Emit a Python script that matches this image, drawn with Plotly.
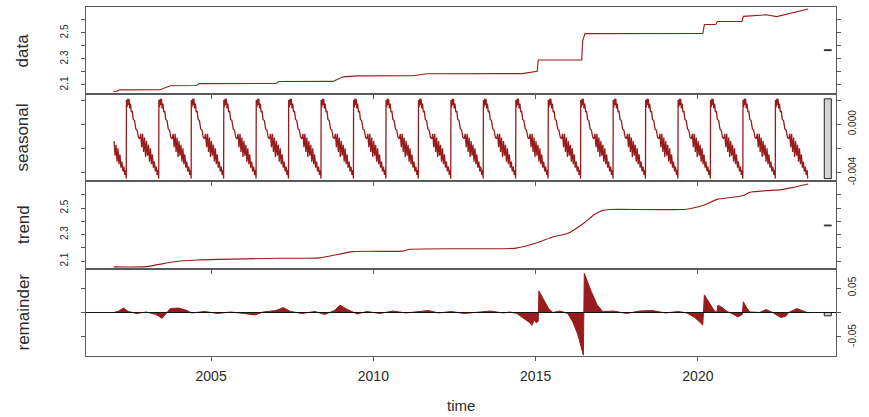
import plotly.graph_objects as go

# ---------------- data ----------------
data_time = [2002.00, 2002.10, 2002.18, 2003.43, 2003.74, 2004.55, 2004.62, 2007.00, 2007.08,
             2008.75, 2009.07, 2009.49, 2011.22, 2011.65, 2014.58, 2014.92, 2015.05, 2015.08,
             2016.42, 2016.45, 2016.52, 2020.15, 2020.20, 2020.55, 2020.60, 2021.36, 2021.40,
             2022.10, 2022.43, 2023.40]
data_value = [2.050, 2.051, 2.062, 2.063, 2.093, 2.095, 2.110, 2.111, 2.126,
              2.127, 2.162, 2.170, 2.171, 2.186, 2.187, 2.203, 2.205, 2.292,
              2.293, 2.440, 2.495, 2.496, 2.565, 2.566, 2.588, 2.589, 2.628,
              2.640, 2.626, 2.685]

trend_time = [2002.00, 2003.00, 2003.85, 2004.57, 2007.10, 2008.35, 2009.37, 2010.90, 2011.13,
              2013.60, 2014.40, 2015.07, 2015.50, 2016.00, 2016.50, 2016.80, 2017.07, 2017.30,
              2019.66, 2020.15, 2020.60, 2021.00, 2021.40, 2021.60, 2022.10, 2022.50, 2022.90,
              2023.40]
trend_value = [2.056, 2.058, 2.095, 2.108, 2.121, 2.124, 2.171, 2.175, 2.189,
               2.193, 2.198, 2.240, 2.280, 2.310, 2.390, 2.450, 2.483, 2.490,
               2.492, 2.520, 2.566, 2.580, 2.596, 2.620, 2.632, 2.638, 2.655,
               2.682]

# one seasonal cycle (phase in years after the yearly jump, value)
seasonal_phase = [0.000, 0.020, 0.040, 0.060, 0.080, 0.100, 0.125, 0.150, 0.180, 0.210,
                  0.250, 0.290, 0.330, 0.370, 0.410, 0.440, 0.470, 0.500, 0.530, 0.560,
                  0.590, 0.620, 0.650, 0.680, 0.710, 0.740, 0.770, 0.800, 0.830, 0.860,
                  0.890, 0.920, 0.950, 0.975, 0.995]
seasonal_cycle = [0.0020, 0.0014, 0.0021, 0.0016, 0.0021, 0.0013, 0.0017, 0.0010, 0.0011, 0.0004,
                  0.0003, -0.0004, -0.0005, -0.0011, -0.0012, -0.0008, -0.0019, -0.0008, -0.0023, -0.0011,
                  -0.0027, -0.0014, -0.0026, -0.0017, -0.0031, -0.0020, -0.0033, -0.0025, -0.0036, -0.0031,
                  -0.0039, -0.0035, -0.0042, -0.0038, -0.0045]
seasonal_cycle_starts = [2001.39 + k for k in range(22)]

remainder_time = [2002.00, 2002.15, 2002.30, 2002.45, 2002.70, 2003.00, 2003.30, 2003.49, 2003.60,
                  2003.74, 2004.00, 2004.26, 2004.40, 2004.80, 2005.20, 2005.60, 2006.00, 2006.35,
                  2006.60, 2007.00, 2007.22, 2007.45, 2007.80, 2008.20, 2008.50, 2008.80, 2008.97,
                  2009.20, 2009.50, 2009.80, 2010.20, 2010.60, 2011.00, 2011.40, 2011.70, 2012.00,
                  2012.40, 2012.80, 2013.20, 2013.60, 2014.00, 2014.20, 2014.42, 2014.60, 2014.80,
                  2014.89, 2014.95, 2015.02, 2015.08, 2015.10, 2015.25, 2015.40, 2015.53, 2015.75,
                  2015.99, 2016.15, 2016.30, 2016.47, 2016.50, 2016.70, 2016.90, 2017.07, 2017.40,
                  2017.80, 2018.20, 2018.60, 2019.00, 2019.40, 2019.66, 2019.90, 2020.10, 2020.15,
                  2020.20, 2020.35, 2020.50, 2020.58, 2020.62, 2020.75, 2020.90, 2021.05, 2021.23,
                  2021.37, 2021.40, 2021.50, 2021.60, 2021.90, 2022.10, 2022.30, 2022.55, 2022.70,
                  2022.80, 2023.05, 2023.20, 2023.40]
remainder_value = [0.000, 0.003, 0.009, 0.002, -0.002, 0.001, -0.004, -0.012, -0.003,
                   0.008, 0.009, 0.004, -0.001, 0.002, -0.002, 0.001, -0.002, -0.005,
                   0.001, 0.004, 0.010, 0.002, -0.002, 0.002, -0.004, 0.004, 0.015,
                   0.006, -0.003, 0.002, -0.002, 0.003, -0.001, 0.002, 0.004, -0.001,
                   0.002, -0.002, 0.001, 0.003, -0.001, 0.001, -0.002, -0.010, -0.020,
                   -0.026, -0.015, -0.021, -0.018, 0.044, 0.025, 0.008, 0.000, 0.003,
                   -0.002, -0.020, -0.045, -0.087, 0.080, 0.045, 0.015, 0.002, 0.003,
                   -0.002, 0.003, 0.004, -0.001, 0.002, -0.001, -0.010, -0.022, -0.026,
                   0.036, 0.020, 0.004, 0.000, 0.015, 0.010, 0.002, -0.002, -0.009,
                   -0.004, 0.022, 0.010, 0.001, 0.000, 0.006, 0.000, -0.010, -0.008,
                   0.000, 0.008, 0.004, -0.001]

series_start, series_end = 2002.0, 2023.4

# assemble the periodic seasonal component from the read cycle
seasonal_time, seasonal_value = [], []
for t0 in seasonal_cycle_starts:
    for p, v in zip(seasonal_phase, seasonal_cycle):
        t = t0 + p
        if series_start <= t <= series_end:
            seasonal_time.append(round(t, 4))
            seasonal_value.append(v)

# ---------------- figure ----------------
RED = "#981c1c"
LINE = "#5a5a5a"
TXT = "#2a2a2a"
FONT = "Liberation Sans, Arial, sans-serif"

span = series_end - series_start
xr = [series_start - 0.04 * span, series_end + 0.04 * span]

ranges = {
    "y": [2.03, 2.70],
    "y2": [-0.0047, 0.0025],
    "y3": [2.04, 2.705],
    "y4": [-0.0888, 0.0888],
}
domains = {
    "y": [0.7507, 1.0],
    "y2": [0.5014, 0.7507],
    "y3": [0.2493, 0.5014],
    "y4": [0.0, 0.2493],
}

fig = go.Figure()
fig.add_trace(go.Scatter(x=data_time, y=data_value, xaxis="x", yaxis="y", mode="lines",
                         line=dict(color=RED, width=1.1), showlegend=False))
fig.add_trace(go.Scatter(x=seasonal_time, y=seasonal_value, xaxis="x2", yaxis="y2", mode="lines",
                         line=dict(color=RED, width=1.3), showlegend=False))
fig.add_trace(go.Scatter(x=trend_time, y=trend_value, xaxis="x3", yaxis="y3", mode="lines",
                         line=dict(color=RED, width=1.1, shape="spline", smoothing=0.6),
                         showlegend=False))
fig.add_trace(go.Scatter(x=remainder_time, y=remainder_value, xaxis="x4", yaxis="y4", mode="lines",
                         fill="tozeroy", fillcolor=RED,
                         line=dict(color=RED, width=1), showlegend=False))

xticks = [2005, 2010, 2015, 2020]
common_x = dict(range=xr, showline=True, linecolor=LINE, linewidth=1.3, mirror=True,
                ticks="outside", ticklen=4, tickcolor=LINE, tickvals=xticks,
                showgrid=False, zeroline=False, automargin=False)
lay = {}
for i, ax in enumerate(["xaxis", "xaxis2", "xaxis3", "xaxis4"]):
    anchor = ["y", "y2", "y3", "y4"][i]
    d = dict(common_x, anchor=anchor, domain=[0, 1], showticklabels=(i == 3))
    lay[ax] = d
lay["xaxis4"].update(tickfont=dict(size=14, color=TXT, family=FONT), ticklabelstandoff=3)

ytick = {
    "y": ([2.1, 2.2, 2.3, 2.4, 2.5, 2.6], ["2.1", "", "2.3", "", "2.5", ""], "left"),
    "y2": ([-0.004, -0.002, 0.0, 0.002], ["-0.004", "", "0.000", ""], "right"),
    "y3": ([2.1, 2.2, 2.3, 2.4, 2.5, 2.6], ["2.1", "", "2.3", "", "2.5", ""], "left"),
    "y4": ([-0.05, 0.0, 0.05], ["-0.05", "", "0.05"], "right"),
}
for k, xa in zip(["y", "y2", "y3", "y4"], ["x", "x2", "x3", "x4"]):
    vals, txt, side = ytick[k]
    name = "yaxis" if k == "y" else "yaxis" + k[1:]
    lay[name] = dict(domain=domains[k], range=ranges[k], anchor=xa, side=side,
                     showline=True, linecolor=LINE, linewidth=1.3, mirror="ticks",
                     ticks="outside", ticklen=4, tickcolor=LINE,
                     tickvals=vals, ticktext=txt, tickangle=-90,
                     ticklabelstandoff=(9 if side == "left" else 3),
                     tickfont=dict(size=10, color=TXT, family=FONT),
                     showgrid=False, zeroline=False, automargin=False)

# range bars (as in R's plot.stl): same data-unit height in every panel
comp = [data_value, seasonal_value, trend_value, remainder_value]
mx = min(max(c) - min(c) for c in comp)
dx = (xr[1] - xr[0]) / 64
shapes = []
for c, xa, ya in zip(comp, ["x", "x2", "x3", "x4"], ["y", "y2", "y3", "y4"]):
    mm = (max(c) + min(c)) / 2
    shapes.append(dict(type="rect", xref=xa, yref=ya, x0=xr[1] - dx, x1=xr[1] - 0.4 * dx,
                       y0=mm - mx / 2, y1=mm + mx / 2, fillcolor="#d3d3d3",
                       line=dict(color="#222", width=1)))
# zero line in remainder panel
shapes.append(dict(type="line", xref="x4 domain", yref="y4", x0=0, x1=1, y0=0, y1=0,
                   line=dict(color="#111", width=1)))

titles = ["data", "seasonal", "trend", "remainder"]
annotations = []
for t, k in zip(titles, ["y", "y2", "y3", "y4"]):
    annotations.append(dict(text=t, xref="paper", yref="paper", x=0, y=sum(domains[k]) / 2,
                            xanchor="center", yanchor="middle", xshift=-63, textangle=-90,
                            showarrow=False, font=dict(size=17, color=TXT, family=FONT)))
annotations.append(dict(text="time", xref="paper", yref="paper", x=0.5, y=0, yshift=-49,
                        xanchor="center", yanchor="middle", showarrow=False,
                        font=dict(size=15, color=TXT, family=FONT)))

fig.update_layout(width=869, height=417, margin=dict(l=86, r=33, t=7, b=61, autoexpand=False),
                  paper_bgcolor="white", plot_bgcolor="white",
                  shapes=shapes, annotations=annotations, **lay)

fig.write_html("out.html", config={"displayModeBar": False},
               post_script="document.body.style.margin='0px';document.body.style.overflow='hidden';")
